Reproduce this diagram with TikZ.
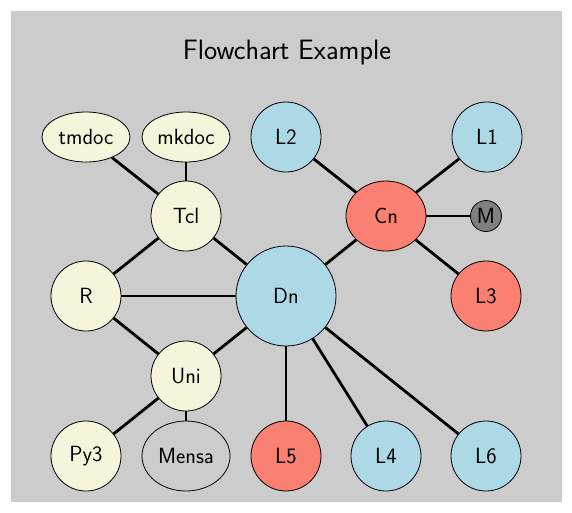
\documentclass[tikz,border=0pt]{standalone}
\usepackage{fontspec}
\usepackage{tikz}
\usetikzlibrary{shapes.geometric}
\definecolor{panel}{HTML}{CCCCCC}
\definecolor{beigefill}{HTML}{F5F5DC}
\definecolor{bluefill}{HTML}{ADD8E6}
\definecolor{salmonfill}{HTML}{FA8072}
\definecolor{darkfill}{HTML}{7F7F7F}
\tikzset{
  lbl/.style={font=\sffamily\fontsize{22}{26}\selectfont},
  circ/.style={circle, draw, line width=0.8pt, inner sep=0pt, minimum size=70pt, lbl},
  oval/.style={ellipse, draw, line width=0.8pt, inner sep=0pt, minimum width=88pt, minimum height=50pt, lbl},
  link/.style={line width=2.8pt}
}
\begin{document}
\begin{tikzpicture}[x=1pt, y=-1pt]
		\useasboundingbox (0,0) rectangle (572,512);
		\fill[panel] (11,11) rectangle (562,502);
		\node[font=\sffamily\fontsize{28}{32}\selectfont] (title) at (287,53) {Flowchart Example};
		\node[oval, fill=beigefill] (tmdoc) at (86,137) {tmdoc};
		\node[oval, fill=beigefill] (mkdoc) at (186,137) {mkdoc};
		\node[circ, fill=bluefill] (L2) at (286,137) {L2};
		\node[circ, fill=bluefill] (L1) at (487,137) {L1};
		\node[circ, fill=beigefill] (Tcl) at (186,216) {Tcl};
		\node[ellipse, draw, line width=0.8pt, inner sep=0pt, minimum width=80pt, minimum height=70pt, lbl, fill=salmonfill] (Cn) at (386,216) {Cn};
		\node[circle, draw, line width=0.8pt, inner sep=0pt, minimum size=31pt, lbl, fill=darkfill] (M) at (486,216) {M};
		\node[circ, fill=beigefill] (R) at (86,296) {R};
		\node[circ, fill=bluefill, minimum size=100pt] (Dn) at (286,296) {Dn};
		\node[circ, fill=salmonfill] (L3) at (486,296) {L3};
		\node[circ, fill=beigefill] (Uni) at (186,376) {Uni};
		\node[circ, fill=beigefill] (Py3) at (86,456) {Py3};
		\node[oval, fill=panel, minimum height=70pt] (Mensa) at (186,456) {Mensa};
		\node[circ, fill=salmonfill] (L5) at (286,456) {L5};
		\node[circ, fill=bluefill] (L4) at (386,456) {L4};
		\node[circ, fill=bluefill] (L6) at (486,456) {L6};
		\draw[link] (tmdoc) -- (Tcl);
		\draw[link] (mkdoc) -- (Tcl);
		\draw[link] (Tcl) -- (R);
		\draw[link] (Tcl) -- (Dn);
		\draw[link] (R) -- (Dn);
		\draw[link] (R) -- (Uni);
		\draw[link] (Uni) -- (Dn);
		\draw[link] (Uni) -- (Py3);
		\draw[link] (Uni) -- (Mensa);
		\draw[link] (Dn) -- (Cn);
		\draw[link] (Cn) -- (L2);
		\draw[link] (Cn) -- (L1);
		\draw[link] (Cn) -- (M);
		\draw[link] (Cn) -- (L3);
		\draw[link] (Dn) -- (L5);
		\draw[link] (Dn) -- (L4);
		\draw[link] (Dn) -- (L6);
		\end{tikzpicture}
\end{document}
